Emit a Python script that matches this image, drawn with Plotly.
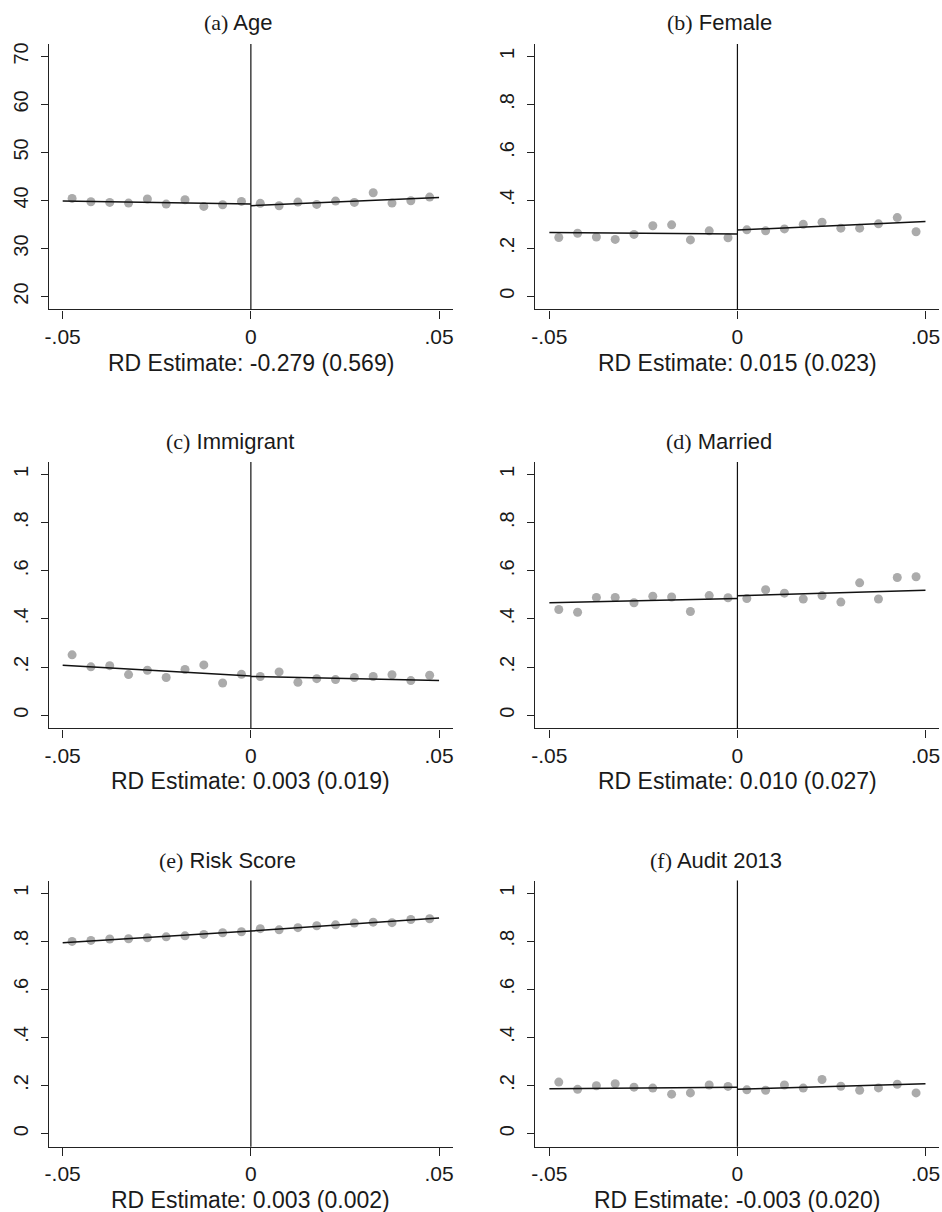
import plotly.graph_objects as go

W, H = 942, 1212

bins = [-0.0475, -0.0425, -0.0375, -0.0325, -0.0275, -0.0225, -0.0175, -0.0125, -0.0075, -0.0025,
        0.0025, 0.0075, 0.0125, 0.0175, 0.0225, 0.0275, 0.0325, 0.0375, 0.0425, 0.0475]

age = [40.43, 39.74, 39.6, 39.46, 40.3, 39.25, 40.15, 38.77, 39.1, 39.8,
       39.4, 38.9, 39.67, 39.18, 39.88, 39.6, 41.6, 39.46, 39.95, 40.7]
female = [0.245, 0.263, 0.247, 0.237, 0.258, 0.294, 0.298, 0.235, 0.273, 0.244,
          0.277, 0.273, 0.281, 0.300, 0.309, 0.284, 0.284, 0.302, 0.328, 0.269]
immigrant = [0.251, 0.201, 0.206, 0.169, 0.187, 0.157, 0.190, 0.209, 0.134, 0.170,
             0.161, 0.180, 0.137, 0.152, 0.148, 0.157, 0.161, 0.168, 0.144, 0.166]
married = [0.439, 0.428, 0.489, 0.489, 0.467, 0.494, 0.491, 0.431, 0.497, 0.488,
           0.485, 0.521, 0.507, 0.483, 0.497, 0.470, 0.550, 0.483, 0.572, 0.575]
risk = [0.799, 0.803, 0.809, 0.810, 0.814, 0.818, 0.822, 0.828, 0.835, 0.839,
        0.852, 0.847, 0.856, 0.864, 0.868, 0.875, 0.879, 0.877, 0.890, 0.893]
audit = [0.214, 0.184, 0.199, 0.207, 0.193, 0.189, 0.164, 0.169, 0.202, 0.196,
         0.182, 0.180, 0.202, 0.189, 0.225, 0.197, 0.180, 0.190, 0.205, 0.169]

# fitted line endpoints: [y at -0.05, y at 0-, y at 0+, y at 0.05]
fit_x_left = [-0.05, 0.0]
fit_x_right = [0.0, 0.05]
fit_age = [39.88, 39.25, 38.9, 40.64]
fit_female = [0.266, 0.260, 0.276, 0.312]
fit_immigrant = [0.208, 0.163, 0.161, 0.144]
fit_married = [0.467, 0.485, 0.496, 0.519]
fit_risk = [0.793, 0.842, 0.842, 0.896]
fit_audit = [0.186, 0.193, 0.184, 0.207]

tags = ["(a)", "(b)", "(c)", "(d)", "(e)", "(f)"]
names = ["Age", "Female", "Immigrant", "Married", "Risk Score", "Audit 2013"]
notes = ["RD Estimate: -0.279 (0.569)", "RD Estimate: 0.015 (0.023)",
         "RD Estimate: 0.003 (0.019)", "RD Estimate: 0.010 (0.027)",
         "RD Estimate: 0.003 (0.002)", "RD Estimate: -0.003 (0.020)"]
series = [age, female, immigrant, married, risk, audit]
fits = [fit_age, fit_female, fit_immigrant, fit_married, fit_risk, fit_audit]

age_ticks = [20, 30, 40, 50, 60, 70]
share_ticks = [0, 0.2, 0.4, 0.6, 0.8, 1]
share_labels = ["0", ".2", ".4", ".6", ".8", "1"]
x_ticks = [-0.05, 0, 0.05]
x_labels = ["-.05", "0", ".05"]

# pixel layout
col_x = [(45, 451), (534.3, 940)]
row_y = [(42, 308), (460.7, 727.7), (880, 1146.7)]
title_pos = [(235, 21), (719, 21), (227, 440.7), (719, 440.7), (224.5, 860), (716, 860)]
note_y = [361.7, 780, 1199.5]

SANS = "Liberation Sans, Arial, sans-serif"
SERIF = "Liberation Serif, Times New Roman, serif"

fig = go.Figure()
layout = dict(width=W, height=H, margin=dict(l=0, r=0, t=0, b=0),
              paper_bgcolor="white", plot_bgcolor="white", showlegend=False,
              font=dict(family=SANS, color="#1a1a1a"))
annotations = []
shapes = []

for i in range(6):
    r, c = divmod(i, 2)
    k = "" if i == 0 else str(i + 1)
    xa, ya = "x" + k, "y" + k
    x0, x1 = col_x[c]
    yt, yb = row_y[r]
    layout["xaxis" + k] = dict(
        domain=[x0 / W, x1 / W], anchor=ya, range=[-0.0537, 0.0536],
        tickvals=x_ticks, ticktext=x_labels, ticks="outside", ticklen=8, tickwidth=1,
        tickcolor="#222", showline=True, linecolor="#222", linewidth=1.2,
        showgrid=False, zeroline=False, tickfont=dict(size=21, family=SANS, color="#1a1a1a"))
    if i == 0:
        yr = [17.3, 72.6]
        tv, tt = age_ticks, [str(v) for v in age_ticks]
    else:
        yr = [-0.055, 1.052]
        tv, tt = share_ticks, share_labels
    layout["yaxis" + k] = dict(
        domain=[1 - yb / H, 1 - yt / H], anchor=xa, range=yr,
        tickvals=tv, ticktext=tt, ticks="outside", ticklen=7, tickwidth=1,
        tickcolor="#222", showline=True, linecolor="#222", linewidth=1.2,
        showgrid=False, zeroline=False, tickangle=-90, ticklabelstandoff=5,
        tickfont=dict(size=20, family=SANS, color="#1a1a1a"))

    fig.add_trace(go.Scatter(x=bins, y=series[i], mode="markers", xaxis=xa, yaxis=ya,
                             marker=dict(size=9, color="#ababab", line=dict(width=0))))
    f = fits[i]
    fig.add_trace(go.Scatter(x=fit_x_left, y=f[:2], mode="lines", xaxis=xa, yaxis=ya,
                             line=dict(color="#111", width=1.5)))
    fig.add_trace(go.Scatter(x=fit_x_right, y=f[2:], mode="lines", xaxis=xa, yaxis=ya,
                             line=dict(color="#111", width=1.5)))

    shapes.append(dict(type="line", xref=xa, yref=ya + " domain", x0=0, x1=0, y0=0, y1=1,
                       line=dict(color="#111", width=1.2), layer="above"))

    tx, ty = title_pos[i]
    annotations.append(dict(
        xref="paper", yref="paper", x=tx / W, y=1 - ty / H, xanchor="center", yanchor="middle",
        showarrow=False,
        text=f'<span style="font-family:{SERIF}">{tags[i]}</span> {names[i]}',
        font=dict(size=22, family=SANS, color="#1a1a1a")))
    annotations.append(dict(
        xref="paper", yref="paper", x=(x0 + x1) / 2 / W, y=1 - note_y[r] / H,
        xanchor="center", yanchor="middle", showarrow=False, text=notes[i],
        font=dict(size=23, family=SANS, color="#1a1a1a")))

layout["annotations"] = annotations
layout["shapes"] = shapes
fig.update_layout(**layout)
fig.write_html("out.html")
